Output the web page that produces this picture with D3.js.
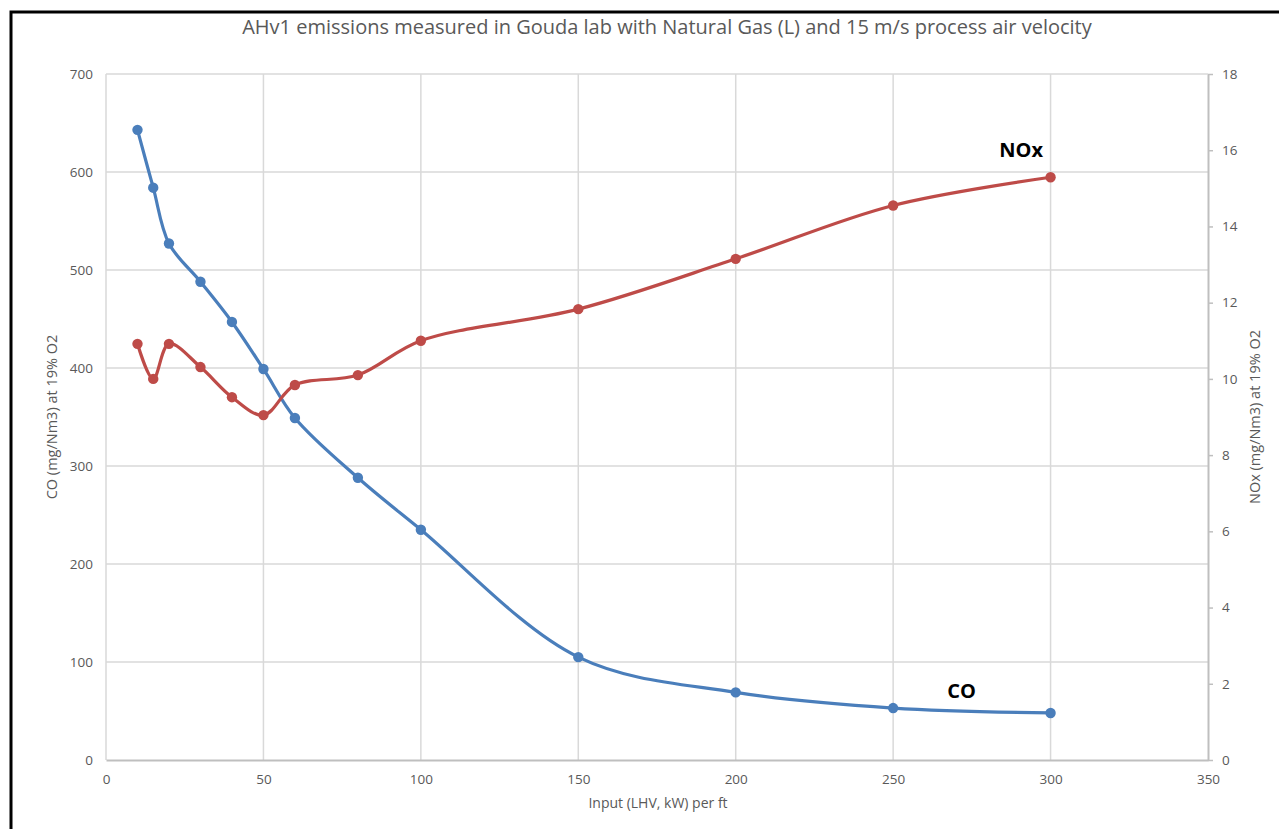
<!DOCTYPE html>
<html>
<head>
<meta charset="utf-8">
<script src="https://cdn.jsdelivr.net/npm/d3@7"></script>
<style>
    body { margin: 0; background: white; }
    svg text { font-family: "Open Sans", "DejaVu Sans", sans-serif; fill: #595959; }
</style>
</head>
<body>
<div id="chart"></div>
<script>
    // input per ft (kW, LHV)
    var inputs = [10, 15, 20, 30, 40, 50, 60, 80, 100, 150, 200, 250, 300];
    // CO mg/Nm3 at 19% O2 (left axis)
    var coValues = [643, 584, 527, 488, 447, 399, 349, 288, 235, 105, 69, 53, 48];
    // NOx mg/Nm3 at 19% O2 (right axis)
    var noxValues = [10.92, 10.0, 10.92, 10.31, 9.52, 9.05, 9.84, 10.1, 11.0, 11.83, 13.15, 14.55, 15.29];

    var xTicks = [0, 50, 100, 150, 200, 250, 300, 350];
    var leftTicks = [0, 100, 200, 300, 400, 500, 600, 700];
    var rightTicks = [0, 2, 4, 6, 8, 10, 12, 14, 16, 18];

    var chartTitle = "AHv1 emissions measured in Gouda lab with Natural Gas (L) and 15 m/s process air velocity";

    var width = 1279, height = 829;
    var margin = { left: 106, right: 1208, top: 74, bottom: 760 };

    var svg = d3.select("#chart").append("svg")
        .attr("width", width)
        .attr("height", height);

    // frame from the document the chart was pasted into
    svg.append("path")
        .attr("d", "M11,829 L11,12 L1279,12")
        .attr("fill", "none")
        .attr("stroke", "black")
        .attr("stroke-width", 3);

    var x = d3.scaleLinear().domain([0, 350]).range([margin.left, margin.right]);
    var yLeft = d3.scaleLinear().domain([0, 700]).range([margin.bottom, margin.top]);
    var yRight = d3.scaleLinear().domain([0, 18]).range([margin.bottom, margin.top]);

    // grid
    svg.append("g").selectAll("line").data(leftTicks.slice(1)).enter().append("line")
        .attr("x1", margin.left).attr("x2", margin.right)
        .attr("y1", function (d) { return yLeft(d); })
        .attr("y2", function (d) { return yLeft(d); })
        .attr("stroke", "#d9d9d9").attr("stroke-width", 1.5);
    svg.append("g").selectAll("line").data(xTicks.slice(0, -1)).enter().append("line")
        .attr("x1", function (d) { return x(d); })
        .attr("x2", function (d) { return x(d); })
        .attr("y1", margin.top).attr("y2", margin.bottom)
        .attr("stroke", "#d9d9d9").attr("stroke-width", 1.5);

    // bottom axis
    var xAxis = svg.append("g")
        .attr("transform", "translate(0," + margin.bottom + ")")
        .call(d3.axisBottom(x).tickValues(xTicks).tickSize(0).tickPadding(14));
    xAxis.select(".domain").attr("stroke", "#bfbfbf").attr("stroke-width", 2);
    xAxis.selectAll("text").style("font-size", "13.5px");

    // left axis (labels only)
    var leftAxis = svg.append("g")
        .attr("transform", "translate(" + margin.left + ",0)")
        .call(d3.axisLeft(yLeft).tickValues(leftTicks).tickSize(0).tickPadding(13));
    leftAxis.select(".domain").remove();
    leftAxis.selectAll("text").style("font-size", "13.5px");

    // right axis
    var rightAxis = svg.append("g")
        .attr("transform", "translate(" + margin.right + ",0)")
        .call(d3.axisRight(yRight).tickValues(rightTicks).tickSize(5).tickSizeOuter(0).tickPadding(9));
    rightAxis.select(".domain").attr("stroke", "#bfbfbf").attr("stroke-width", 2);
    rightAxis.selectAll("line").attr("stroke", "#bfbfbf").attr("stroke-width", 1.5);
    rightAxis.selectAll("text").style("font-size", "13.5px");

    // series
    var coData = inputs.map(function (d, i) { return { x: d, y: coValues[i] }; });
    var noxData = inputs.map(function (d, i) { return { x: d, y: noxValues[i] }; });

    var series = [
        { data: coData, scale: yLeft, color: "#4a7ebb" },
        { data: noxData, scale: yRight, color: "#be4b48" }
    ];

    series.forEach(function (s) {
        var line = d3.line()
            .x(function (d) { return x(d.x); })
            .y(function (d) { return s.scale(d.y); })
            .curve(d3.curveCatmullRom.alpha(0.5));
        svg.append("path")
            .datum(s.data)
            .attr("d", line)
            .attr("fill", "none")
            .attr("stroke", s.color)
            .attr("stroke-width", 3.2)
            .attr("stroke-linejoin", "round");
        svg.append("g").selectAll("circle").data(s.data).enter().append("circle")
            .attr("cx", function (d) { return x(d.x); })
            .attr("cy", function (d) { return s.scale(d.y); })
            .attr("r", 5.2)
            .attr("fill", s.color);
    });

    // series labels
    svg.append("text")
        .attr("x", 1043).attr("y", 157)
        .attr("text-anchor", "end")
        .style("font-size", "20px").style("font-weight", "bold").style("fill", "black")
        .text("NOx");
    svg.append("text")
        .attr("x", 976).attr("y", 698)
        .attr("text-anchor", "end")
        .style("font-size", "20px").style("font-weight", "bold").style("fill", "black")
        .text("CO");

    // titles
    svg.append("text")
        .attr("x", 667).attr("y", 34)
        .attr("text-anchor", "middle")
        .style("font-size", "20px")
        .text(chartTitle);
    svg.append("text")
        .attr("x", 658).attr("y", 808)
        .attr("text-anchor", "middle")
        .style("font-size", "14px")
        .text("Input (LHV, kW) per ft");
    svg.append("text")
        .attr("transform", "translate(57,417) rotate(-90)")
        .attr("text-anchor", "middle")
        .style("font-size", "14.5px")
        .text("CO (mg/Nm3) at 19% O2");
    svg.append("text")
        .attr("transform", "translate(1260,417) rotate(-90)")
        .attr("text-anchor", "middle")
        .style("font-size", "14.5px")
        .text("NOx (mg/Nm3) at 19% O2");
</script>
</body>
</html>
